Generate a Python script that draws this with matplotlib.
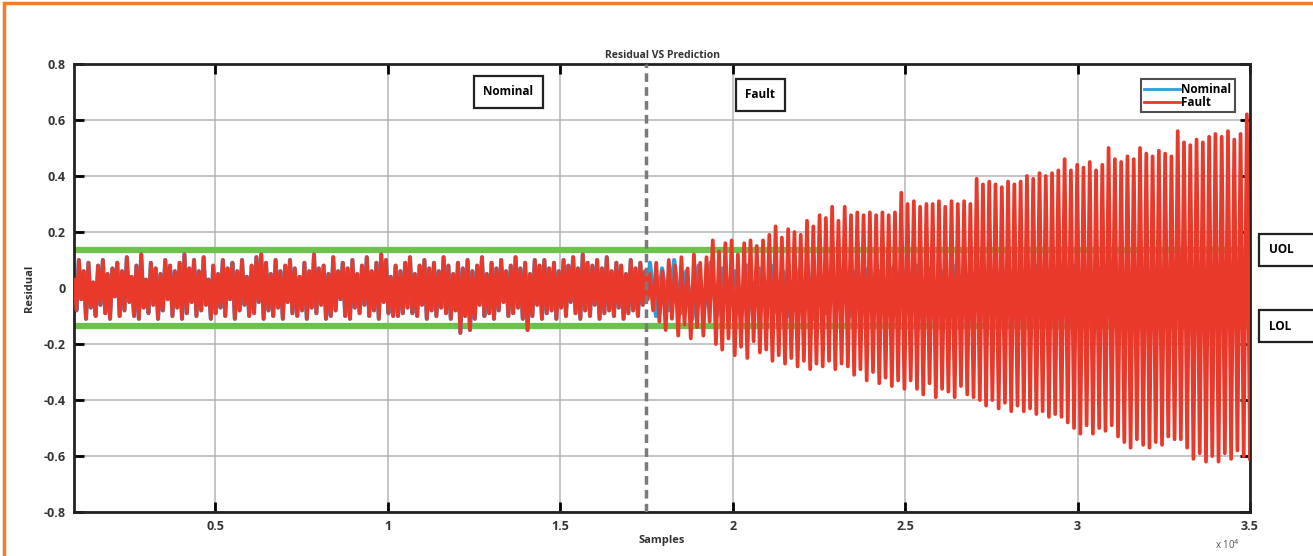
import numpy as np
import matplotlib
matplotlib.use("Agg")
import matplotlib.pyplot as plt
from matplotlib.patches import Rectangle

# residuals, x axis in units of 10^4 samples
x_start = 0.09
x_fault = 1.76
x_end = 3.5
fault_line_x = 1.75
uol = 0.136
lol = -0.136

x_ticks = [0.5, 1.0, 1.5, 2.0, 2.5, 3.0, 3.5]
x_ticklabels = ["0.5", "1", "1.5", "2", "2.5", "3", "3.5"]
y_ticks = [-0.8, -0.6, -0.4, -0.2, 0.0, 0.2, 0.4, 0.6, 0.8]
y_ticklabels = ["-0.8", "-0.6", "-0.4", "-0.2", "0", "0.2", "0.4", "0.6", "0.8"]

# residual before the fault (both series follow it)
pre_fault_res = [
    0.03, -0.08, 0.10, -0.04, 0.06, -0.11, 0.09, -0.07, 0.02, -0.10, 0.08, -0.06, 0.10, -0.09, 0.05, -0.11, 0.07, -0.03, 0.09, -0.10,
    0.06, -0.08, 0.11, -0.05, 0.04, -0.10, 0.08, -0.11, 0.12, -0.07, 0.03, -0.09, 0.09, -0.06, 0.07, -0.11, 0.05, -0.08, 0.10, -0.04,
    0.08, -0.10, 0.06, -0.07, 0.09, -0.11, 0.12, -0.09, 0.07, -0.05, 0.10, -0.10, 0.06, -0.08, 0.11, -0.06, 0.03, -0.11, 0.08, -0.09,
    0.05, -0.07, 0.10, -0.10, 0.07, -0.04, 0.09, -0.11, 0.06, -0.08, 0.10, -0.06, 0.04, -0.10, 0.08, -0.09, 0.11, -0.05, 0.12, -0.11,
    0.09, -0.08, 0.05, -0.10, 0.10, -0.07, 0.06, -0.11, 0.08, -0.05, 0.10, -0.09, 0.07, -0.10, 0.04, -0.08, 0.09, -0.11, 0.06, -0.07,
    0.12, -0.09, 0.07, -0.06, 0.08, -0.11, 0.05, -0.10, 0.11, -0.08, 0.06, -0.04, 0.09, -0.10, 0.07, -0.11, 0.10, -0.07, 0.05, -0.09,
    0.08, -0.06, 0.11, -0.10, 0.06, -0.08, 0.09, -0.11, 0.12, -0.05, 0.10, -0.09, 0.04, -0.10, 0.08, -0.10, 0.06, -0.09, 0.09, -0.07,
    0.11, -0.09, 0.05, -0.10, 0.08, -0.06, 0.10, -0.11, 0.07, -0.08, 0.09, -0.10, 0.06, -0.07, 0.11, -0.09, 0.08, -0.11, 0.05, -0.08,
    0.09, -0.16, 0.07, -0.10, 0.10, -0.15, 0.06, -0.11, 0.08, -0.06, 0.11, -0.10, 0.05, -0.09, 0.09, -0.11, 0.07, -0.08, 0.10, -0.05,
    0.06, -0.10, 0.08, -0.09, 0.11, -0.07, 0.07, -0.11, 0.09, -0.15, 0.05, -0.10, 0.10, -0.06, 0.08, -0.11, 0.10, -0.09, 0.07, -0.08,
    0.09, -0.11, 0.06, -0.07, 0.10, -0.10, 0.08, -0.05, 0.11, -0.09, 0.07, -0.11, 0.12, -0.08, 0.09, -0.10, 0.08, -0.06, 0.10, -0.11,
    0.07, -0.09, 0.11, -0.08, 0.06, -0.10, 0.09, -0.07, 0.08, -0.11, 0.05, -0.09, 0.10, -0.08, 0.07, -0.10, 0.09, -0.06, 0.06, -0.04,
]

# nominal residual (blue) after the fault point
nominal_post_res = [
    0.09, -0.10, 0.07, -0.08, 0.10, -0.09, 0.06, -0.11, 0.08, -0.07, 0.09, -0.10, 0.07, -0.08, 0.06, -0.09, 0.08, -0.10, 0.07, -0.06,
    0.08, -0.09, 0.06, -0.10, 0.07, -0.08, 0.08, -0.11, 0.06, -0.09, 0.07, -0.07, 0.08, -0.10, 0.06, -0.09, 0.07, -0.08, 0.06, -0.10,
    0.07, -0.08, 0.06, -0.10, 0.08, -0.09, 0.07, -0.11, 0.06, -0.07, 0.08, -0.10, 0.07, -0.09, 0.06, -0.08, 0.07, -0.10, 0.08, -0.09,
    0.06, -0.10, 0.07, -0.08, 0.08, -0.11, 0.06, -0.09, 0.07, -0.10, 0.08, -0.07, 0.06, -0.09, 0.07, -0.10, 0.08, -0.08, 0.06, -0.11,
    0.07, -0.09, 0.08, -0.10, 0.06, -0.08, 0.07, -0.11, 0.08, -0.09, 0.06, -0.10, 0.07, -0.08, 0.08, -0.09, 0.06, -0.10, 0.07, -0.05,
]

# fault residual (red) after the fault starts, growing oscillation
fault_post_res = [
    0.05, -0.08, 0.09, -0.12, 0.06, -0.15, 0.10, -0.11, 0.08, -0.17, 0.11, -0.13, 0.07, -0.18, 0.12, -0.14, 0.09, -0.17, 0.11, -0.12,
    0.17, -0.20, 0.13, -0.22, 0.16, -0.18, 0.17, -0.24, 0.12, -0.21, 0.16, -0.25, 0.17, -0.19, 0.15, -0.23, 0.17, -0.22,
    0.19, -0.26, 0.22, -0.24, 0.18, -0.27, 0.21, -0.25, 0.20, -0.28, 0.19, -0.26, 0.24, -0.29, 0.22, -0.27, 0.26, -0.28, 0.25, -0.26,
    0.29, -0.29, 0.24, -0.27, 0.29, -0.28,
    0.26, -0.31, 0.27, -0.29, 0.26, -0.33, 0.27, -0.30, 0.26, -0.34, 0.27, -0.32, 0.26, -0.35, 0.27, -0.33, 0.34, -0.36,
    0.30, -0.33, 0.31, -0.36, 0.29, -0.38, 0.30, -0.34, 0.30, -0.39, 0.31, -0.36, 0.29, -0.37, 0.31, -0.39, 0.30, -0.35, 0.31, -0.38,
    0.30, -0.39,
    0.39, -0.40, 0.37, -0.42, 0.38, -0.40, 0.37, -0.43, 0.36, -0.41, 0.38, -0.44, 0.37, -0.42, 0.38, -0.44, 0.40, -0.43, 0.39, -0.45,
    0.41, -0.44, 0.40, -0.46, 0.41, -0.45, 0.42, -0.46,
    0.46, -0.48, 0.42, -0.50, 0.44, -0.52, 0.43, -0.49, 0.45, -0.52, 0.42, -0.50, 0.44, -0.51, 0.50, -0.49,
    0.46, -0.53, 0.45, -0.55, 0.47, -0.57, 0.46, -0.54, 0.50, -0.56, 0.48, -0.57, 0.47, -0.55, 0.49, -0.56, 0.48, -0.53, 0.47, -0.54,
    0.56, -0.54, 0.52, -0.57, 0.51, -0.61, 0.53, -0.59, 0.52, -0.62, 0.54, -0.60, 0.55, -0.62, 0.54, -0.59, 0.56, -0.61, 0.53, -0.58,
    0.55, -0.60, 0.62, -0.61,
]

# evenly spaced samples
pre_x = np.linspace(x_start, x_fault, len(pre_fault_res), endpoint=False)
nominal_x = np.concatenate([pre_x, np.linspace(x_fault, x_end, len(nominal_post_res))])
nominal_res = np.concatenate([pre_fault_res, nominal_post_res])
fault_x = np.concatenate([pre_x, np.linspace(x_fault, x_end, len(fault_post_res))])
fault_res = np.concatenate([pre_fault_res, fault_post_res])

plt.rcParams["font.family"] = ["Open Sans", "DejaVu Sans"]

fig = plt.figure(figsize=(13.13, 5.56), dpi=100)
ax = fig.add_axes([0.0564, 0.079, 0.8956, 0.806])

ax.axhline(uol, color="#6cc24a", lw=4.5, zorder=1)
ax.axhline(lol, color="#6cc24a", lw=4.5, zorder=1)
ax.plot(nominal_x, nominal_res, color="#2a9fdc", lw=3.0, zorder=2, label="Nominal")
ax.plot(fault_x, fault_res, color="#e8392b", lw=2.7, zorder=3, label="Fault")
ax.axvline(fault_line_x, color="#7a7a7a", lw=2.5, ls=(0, (2.5, 1.5)), zorder=4)

ax.set_xlim(x_start, x_end)
ax.set_ylim(-0.8, 0.8)
ax.set_xticks(x_ticks)
ax.set_xticklabels(x_ticklabels)
ax.set_yticks(y_ticks)
ax.set_yticklabels(y_ticklabels)
ax.tick_params(direction="in", length=7, width=2, top=True, right=True,
               labelsize=9, colors="black", pad=6)
for lab in ax.get_xticklabels() + ax.get_yticklabels():
    lab.set_fontweight("bold")
    lab.set_color("#333333")
ax.grid(True, color="#b5b5b5", lw=1.1)
ax.set_axisbelow(True)
for sp in ax.spines.values():
    sp.set_linewidth(2)
    sp.set_color("#222222")

ax.set_title("Residual VS Prediction", fontsize=7.5, fontweight="bold", color="#333333", pad=4)
ax.set_xlabel("Samples", fontsize=8, fontweight="bold", color="#333333", labelpad=1)
ax.set_ylabel("Residual", fontsize=8, fontweight="bold", color="#333333", labelpad=6)

box = dict(boxstyle="square,pad=0.8", fc="white", ec="#222222", lw=1.6)
ax.text(1.35, 0.70, "Nominal", fontsize=8.5, fontweight="bold", ha="center", va="center", bbox=box, zorder=6)
ax.text(2.08, 0.69, "Fault", fontsize=8.5, fontweight="bold", ha="center", va="center", bbox=box, zorder=6)
ax.text(3.555, uol, "UOL     ", fontsize=8.5, fontweight="bold", ha="left", va="center", bbox=box, clip_on=False)
ax.text(3.555, lol, "LOL     ", fontsize=8.5, fontweight="bold", ha="left", va="center", bbox=box, clip_on=False)

leg = ax.legend(loc="upper right", bbox_to_anchor=(0.987, 0.966), fontsize=8.5, frameon=True,
                fancybox=False, handlelength=3, handletextpad=0.1, borderpad=0.3,
                labelspacing=0.0, borderaxespad=0)
leg.get_frame().set_edgecolor("#222222")
leg.get_frame().set_linewidth(1.5)
for t in leg.get_texts():
    t.set_fontweight("bold")
for h in leg.get_lines():
    h.set_linewidth(2)

fig.text(0.925, 0.013, "x 10$^{4}$", fontsize=7, color="#555555")

# orange frame around the picture
fig.patches.append(Rectangle((0.003, -0.02), 1.02, 1.015, transform=fig.transFigure,
                             fill=False, ec="#f07d2b", lw=2.5))

fig.savefig("out.png", dpi=100)
